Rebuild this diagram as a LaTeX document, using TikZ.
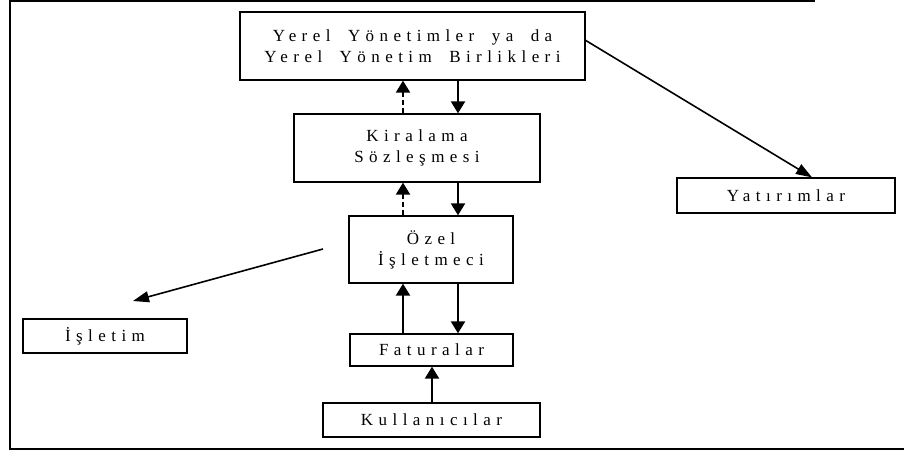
\documentclass[tikz,border=0pt]{standalone}
\usepackage{fontspec}
\setmainfont{Liberation Serif}[LetterSpace=32,WordSpace=1.8]
\usetikzlibrary{arrows.meta}
\begin{document}
\begin{tikzpicture}[x=1pt,y=-1pt,
  box/.style={draw=black, line width=1.3pt, rectangle, inner sep=0pt, align=center,
    font=\fontsize{17}{21}\selectfont},
  thick arrow/.style={line width=2.2pt, -{Triangle[width=14pt,length=12pt]}},
  dash arrow/.style={thick arrow, dash pattern=on 5pt off 3pt},
  thin arrow/.style={line width=1.6pt, -{Triangle[width=11pt,length=16pt]}}]
\useasboundingbox (0,0) rectangle (904,452);
% outer frame
\draw[line width=1.3pt] (815,1) -- (10,1) -- (10,449) -- (904,449);
% nodes
\node[box, minimum width=345pt, minimum height=68pt] (top) at (412.5,46) {Yerel Yönetimler ya da\\Yerel Yönetim Birlikleri};
\node[box, minimum width=246pt, minimum height=68pt] (kira) at (417,148) {Kiralama\\Sözleşmesi};
\node[box, minimum width=164pt, minimum height=67pt] (ozel) at (431,249.5) {Özel\\İşletmeci};
\node[box, minimum width=163pt, minimum height=32pt] (fat) at (431.5,350) {Faturalar};
\node[box, minimum width=217pt, minimum height=34pt] (kul) at (431.5,420) {Kullanıcılar};
\node[box, minimum width=164pt, minimum height=34pt] (isl) at (105,336) {İşletim};
\node[box, minimum width=218pt, minimum height=35pt] (yat) at (786,195.5) {Yatırımlar};
% reference columns
\coordinate (xa) at (403,0);
\coordinate (xb) at (458,0);
\coordinate (xc) at (432,0);
\coordinate (xy) at (812,0);
% vertical arrows
\draw[dash arrow] (kira.north -| xa) -- (top.south -| xa);
\draw[thick arrow] (top.south -| xb) -- (kira.north -| xb);
\draw[dash arrow] (ozel.north -| xa) -- (kira.south -| xa);
\draw[thick arrow] (kira.south -| xb) -- (ozel.north -| xb);
\draw[thick arrow] (fat.north -| xa) -- (ozel.south -| xa);
\draw[thick arrow] (ozel.south -| xb) -- (fat.north -| xb);
\draw[thick arrow] (kul.north -| xc) -- (fat.south -| xc);
% diagonal arrows
\coordinate (ys) at (585,40);
\draw[thin arrow] (ys) -- (yat.north -| xy);
\coordinate (is) at (323,249);
\coordinate (ie) at (133,301);
\draw[thin arrow] (is) -- (ie);
\end{tikzpicture}
\end{document}
